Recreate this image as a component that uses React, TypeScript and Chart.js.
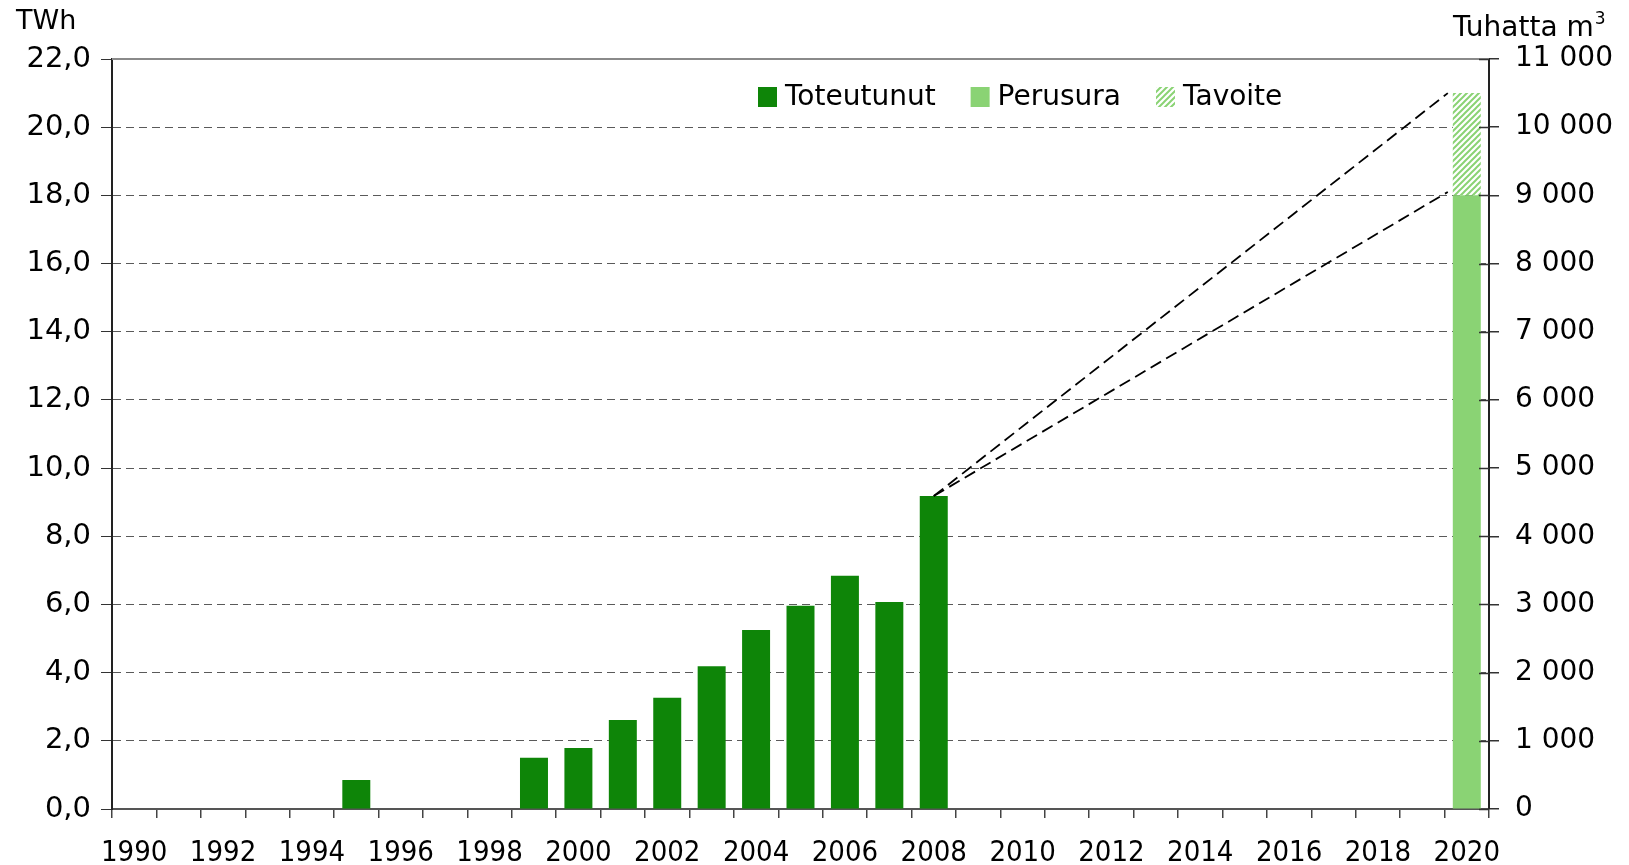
import React, { useEffect, useRef } from "react";
import { Chart, registerables } from "chart.js";

Chart.register(...registerables);

// ---------- DATA ----------
const years: string[] = [
  "1990", "1991", "1992", "1993", "1994", "1995", "1996", "1997", "1998", "1999",
  "2000", "2001", "2002", "2003", "2004", "2005", "2006", "2007", "2008", "2009",
  "2010", "2011", "2012", "2013", "2014", "2015", "2016", "2017", "2018", "2019",
  "2020",
];

// Toteutunut (TWh)
const toteutunut: (number | null)[] = [
  null, null, null, null, null, 0.85, null, null, null, 1.5,
  1.79, 2.61, 3.26, 4.19, 5.25, 5.96, 6.84, 6.07, 9.18, null,
  null, null, null, null, null, null, null, null, null, null,
  null,
];

// Perusura (TWh)
const perusura: (number | null)[] = [
  null, null, null, null, null, null, null, null, null, null,
  null, null, null, null, null, null, null, null, null, null,
  null, null, null, null, null, null, null, null, null, null,
  18.0,
];

// Tavoite (extra on top of Perusura, TWh)
const tavoite: (number | null)[] = [
  null, null, null, null, null, null, null, null, null, null,
  null, null, null, null, null, null, null, null, null, null,
  null, null, null, null, null, null, null, null, null, null,
  3.0,
];

// projection dashed lines: from 2008 value to 2020 values
const projectionStartYear = "2008";
const projectionStartValue = 9.18;
const projectionEndYear = "2020";
const projectionEndValues: number[] = [21.0, 18.1];

const leftAxisMax = 22;
const leftAxisStep = 2;
const rightAxisMax = 11000;
const rightAxisStep = 1000;

const leftTitle = "TWh";
const rightTitle = "Tuhatta m";
const rightTitleSup = "3";

const seriesNames = ["Toteutunut", "Perusura", "Tavoite"];

// ---------- STYLE ----------
const DARK = "#0e8508";
const LIGHT = "#8ad374";
const FONT_V = "'DejaVu Sans', Verdana, sans-serif";
const FONT_T = "'DejaVu Sans Condensed', Tahoma, sans-serif";

function makeHatch(): CanvasPattern | string {
  const c = document.createElement("canvas");
  const s = 6;
  c.width = s;
  c.height = s;
  const ctx = c.getContext("2d");
  if (!ctx) return LIGHT;
  ctx.fillStyle = "#ffffff";
  ctx.fillRect(0, 0, s, s);
  ctx.strokeStyle = LIGHT;
  ctx.lineWidth = 2;
  ctx.beginPath();
  ctx.moveTo(-s, s);
  ctx.lineTo(s, -s);
  ctx.moveTo(0, s);
  ctx.lineTo(s, 0);
  ctx.moveTo(0, 2 * s);
  ctx.lineTo(2 * s, 0);
  ctx.stroke();
  const p = ctx.createPattern(c, "repeat");
  return p || LIGHT;
}

function fmtThousands(v: number): string {
  const s = Math.round(v).toString();
  return s.replace(/\B(?=(\d{3})+(?!\d))/g, " ");
}

export default function App() {
  const ref = useRef<HTMLCanvasElement | null>(null);

  useEffect(() => {
    if (!ref.current) return;
    const hatch = makeHatch();

    const extrasPlugin = {
      id: "extras",
      afterDatasetsDraw(chart: any) {
        const ctx = chart.ctx;
        const area = chart.chartArea;
        const x = chart.scales.x;
        const y = chart.scales.y;
        const yr = chart.scales.y2;

        // projection lines
        const i0 = years.indexOf(projectionStartYear);
        const i1 = years.indexOf(projectionEndYear);
        const meta = chart.getDatasetMeta(1);
        const bar = meta.data[i1];
        const half = bar && bar.width ? bar.width / 2 : 14;
        const xs = x.getPixelForValue(i0);
        const ys = y.getPixelForValue(projectionStartValue);
        const xe = x.getPixelForValue(i1) - half - 5;
        ctx.save();
        ctx.strokeStyle = "#000";
        ctx.lineWidth = 1.8;
        ctx.setLineDash([12, 6]);
        projectionEndValues.forEach((v) => {
          ctx.beginPath();
          ctx.moveTo(xs, ys);
          ctx.lineTo(xe, y.getPixelForValue(v));
          ctx.stroke();
        });
        ctx.restore();

        // top border
        ctx.save();
        ctx.strokeStyle = "#8a8a8a";
        ctx.lineWidth = 2;
        ctx.beginPath();
        ctx.moveTo(area.left, area.top);
        ctx.lineTo(area.right, area.top);
        ctx.stroke();
        ctx.restore();

        // inner tick marks on right axis
        ctx.save();
        ctx.strokeStyle = "#333";
        ctx.lineWidth = 1.5;
        yr.ticks.forEach((t: any) => {
          const py = Math.round(yr.getPixelForValue(t.value)) + 0.5;
          ctx.beginPath();
          ctx.moveTo(area.right - 10, py);
          ctx.lineTo(area.right, py);
          ctx.stroke();
        });
        ctx.restore();

        // axis titles
        ctx.save();
        ctx.fillStyle = "#000";
        ctx.textBaseline = "alphabetic";
        ctx.textAlign = "left";
        ctx.font = `27px ${FONT_V}`;
        ctx.fillText(leftTitle, 16, 29);
        ctx.font = `28px ${FONT_V}`;
        ctx.fillText(rightTitle, 1453, 36);
        const w = ctx.measureText(rightTitle).width;
        ctx.font = `17px ${FONT_V}`;
        ctx.fillText(rightTitleSup, 1453 + w + 1, 24);
        ctx.restore();

        // legend (inside plot, top right)
        ctx.save();
        ctx.font = `28px ${FONT_V}`;
        ctx.textBaseline = "middle";
        ctx.textAlign = "left";
        const fills: any[] = [DARK, LIGHT, hatch];
        let lx = 758;
        const ly = area.top + 38;
        seriesNames.forEach((name, i) => {
          ctx.fillStyle = fills[i];
          ctx.fillRect(lx, ly - 10, 19, 20);
          ctx.fillStyle = "#000";
          ctx.fillText(name, lx + 27, ly + 1);
          lx += 27 + ctx.measureText(name).width + 35;
        });
        ctx.restore();
      },
    };

    const chart = new Chart(ref.current, {
      type: "bar",
      data: {
        labels: years,
        datasets: [
          {
            label: seriesNames[0],
            data: toteutunut,
            backgroundColor: DARK,
            barPercentage: 0.63,
            categoryPercentage: 1,
            stack: "s",
          },
          {
            label: seriesNames[1],
            data: perusura,
            backgroundColor: LIGHT,
            barPercentage: 0.63,
            categoryPercentage: 1,
            stack: "s",
          },
          {
            label: seriesNames[2],
            data: tavoite,
            backgroundColor: hatch as any,
            barPercentage: 0.63,
            categoryPercentage: 1,
            stack: "s",
          },
        ],
      },
      options: {
        responsive: true,
        maintainAspectRatio: false,
        animation: false,
        events: [],
        layout: { padding: { top: 59, left: 0, right: 0, bottom: 0 } },
        plugins: {
          legend: { display: false },
          tooltip: { enabled: false },
          title: { display: false },
        },
        scales: {
          x: {
            stacked: true,
            offset: true,
            grid: {
              display: true,
              offset: true,
              drawOnChartArea: false,
              drawTicks: true,
              tickLength: 9,
              color: "#444",
              lineWidth: 1.5,
            },
            border: { display: true, color: "#555", width: 2 },
            ticks: {
              autoSkip: false,
              maxRotation: 0,
              minRotation: 0,
              padding: 18,
              color: "#000",
              font: { family: FONT_T, size: 29 },
              callback: (_v: any, i: number) => (i % 2 === 0 ? years[i] : ""),
            },
            afterFit: (s: any) => {
              s.height = 56;
            },
          },
          y: {
            position: "left",
            stacked: true,
            min: 0,
            max: leftAxisMax,
            grid: {
              display: true,
              drawOnChartArea: true,
              drawTicks: true,
              tickLength: 11,
              color: "#5a5a5a",
              lineWidth: 1,
              tickColor: "#333",
              tickBorderDash: [],
            } as any,
            border: { display: true, color: "#222", width: 2, dash: [8, 5] } as any,
            ticks: {
              stepSize: leftAxisStep,
              padding: 10,
              color: "#000",
              font: { family: FONT_V, size: 29 },
              callback: (v: any) => Number(v).toFixed(1).replace(".", ","),
            },
            afterFit: (s: any) => {
              s.width = 112;
            },
          },
          y2: {
            position: "right",
            min: 0,
            max: rightAxisMax,
            grid: {
              display: true,
              drawOnChartArea: false,
              drawTicks: true,
              tickLength: 10,
              color: "#333",
              lineWidth: 1.5,
            },
            border: { display: true, color: "#222", width: 2 },
            ticks: {
              stepSize: rightAxisStep,
              padding: 16,
              color: "#000",
              font: { family: FONT_V, size: 28 },
              callback: (v: any) => fmtThousands(Number(v)),
            },
            afterFit: (s: any) => {
              s.width = 140;
            },
          },
        },
      } as any,
      plugins: [extrasPlugin],
    });

    return () => chart.destroy();
  }, []);

  return (
    <div
      style={{
        position: "absolute",
        left: 0,
        top: 0,
        width: 1629,
        height: 865,
        background: "#fff",
      }}
    >
      <canvas ref={ref} />
    </div>
  );
}
